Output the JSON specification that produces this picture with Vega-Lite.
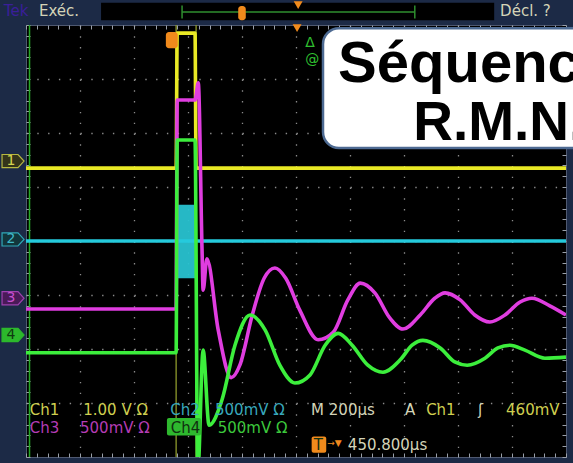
{
  "$schema": "https://vega.github.io/schema/vega-lite/v6.json",
  "width": 540,
  "height": 432,
  "autosize": {"type": "none"},
  "padding": {"left": 26, "top": 25, "right": 7, "bottom": 6},
  "background": "#1c2a46",
  "config": {"view": {"fill": "#000000", "stroke": "#4e5870", "strokeWidth": 1}},
  "resolve": {
    "axis": {"x": "independent", "y": "independent"},
    "scale": {"color": "independent", "fill": "independent", "stroke": "independent"}
  },
  "layer": [
    {
      "data": {"values": [{"x": 0.065, "y": 0, "y2": 8}]},
      "mark": {"type": "rule", "color": "#27a827", "strokeWidth": 1.5},
      "encoding": {
        "x": {"field": "x", "type": "quantitative", "scale": {"domain": [0, 10], "nice": false, "zero": false},
          "axis": {"orient": "bottom", "values": [1, 2, 3, 4, 5, 6, 7, 8, 9], "grid": true, "gridColor": "#8a8a8a", "gridDash": [1.4, 9.4], "gridWidth": 1.3, "ticks": false, "labels": false, "domain": false, "title": null}},
        "y": {"field": "y", "type": "quantitative", "scale": {"domain": [0, 8], "nice": false, "zero": false},
          "axis": {"orient": "left", "values": [1, 2, 3, 4, 5, 6, 7], "grid": true, "gridColor": "#8a8a8a", "gridDash": [1.4, 9.4], "gridWidth": 1.3, "ticks": false, "labels": false, "domain": false, "title": null}},
        "y2": {"field": "y2"}
      }
    },
    {
      "data": {"values": [{"x": 2.78, "y": 0, "y2": 8}, {"x": 3.15, "y": 0, "y2": 8}]},
      "mark": {"type": "rule", "color": "#8e9a2c", "strokeWidth": 1.3},
      "encoding": {
        "x": {"field": "x", "type": "quantitative",
          "axis": {"orient": "top", "tickCount": 50, "tickSize": -4, "tickColor": "#9aa0aa", "tickWidth": 1, "labels": false, "domain": false, "grid": false, "title": null}},
        "y": {"field": "y", "type": "quantitative",
          "axis": {"orient": "left", "tickCount": 40, "tickSize": -4, "tickColor": "#9aa0aa", "tickWidth": 1, "labels": false, "domain": false, "grid": false, "title": null}},
        "y2": {"field": "y2"}
      }
    },
    {
      "data": {"values": [{"x": 1.39, "x2": 8.67, "y": 8.09, "y2": 8.41}]},
      "mark": {"type": "rect", "fill": "#000000"},
      "encoding": {
        "x": {"field": "x", "type": "quantitative",
          "axis": {"orient": "bottom", "tickCount": 50, "tickSize": -4, "tickColor": "#9aa0aa", "tickWidth": 1, "labels": false, "domain": false, "grid": false, "title": null}},
        "x2": {"field": "x2"},
        "y": {"field": "y", "type": "quantitative",
          "axis": {"orient": "right", "tickCount": 40, "tickSize": -4, "tickColor": "#9aa0aa", "tickWidth": 1, "labels": false, "domain": false, "grid": false, "title": null}},
        "y2": {"field": "y2"}
      }
    },
    {
      "data": {"values": [
        {"x": 2.89, "x2": 7.2, "y": 8.24, "y2": 8.24},
        {"x": 2.89, "x2": 2.89, "y": 8.12, "y2": 8.36},
        {"x": 7.2, "x2": 7.2, "y": 8.12, "y2": 8.36}
      ]},
      "mark": {"type": "rule", "color": "#2f8f2f", "strokeWidth": 1.5},
      "encoding": {
        "x": {"field": "x", "type": "quantitative", "axis": null},
        "x2": {"field": "x2"},
        "y": {"field": "y", "type": "quantitative", "axis": null},
        "y2": {"field": "y2"}
      }
    },
    {
      "data": {"values": [{"x": 2.79, "x2": 3.13, "y": 3.31, "y2": 4.67}]},
      "mark": {"type": "rect", "fill": "#28c2d0", "opacity": 0.95},
      "encoding": {
        "x": {"field": "x", "type": "quantitative", "axis": null},
        "x2": {"field": "x2"},
        "y": {"field": "y", "type": "quantitative", "axis": null},
        "y2": {"field": "y2"}
      }
    },
    {
      "data": {"values": [
        {"ch": "1", "t": 0, "v": 5.35}, {"ch": "1", "t": 2.78, "v": 5.35}, {"ch": "1", "t": 2.8, "v": 7.85}, {"ch": "1", "t": 3.13, "v": 7.85}, {"ch": "1", "t": 3.15, "v": 5.35}, {"ch": "1", "t": 10, "v": 5.35},
        {"ch": "2", "t": 0, "v": 4.0}, {"ch": "2", "t": 2.78, "v": 4.0}, {"ch": "2", "t": 3.15, "v": 4.0}, {"ch": "2", "t": 10, "v": 4.0},
        {"ch": "3", "t": 0, "v": 2.74}, {"ch": "3", "t": 2.78, "v": 2.74}, {"ch": "3", "t": 2.8, "v": 6.61}, {"ch": "3", "t": 3.13, "v": 6.61}, {"ch": "3", "t": 3.19, "v": 6.93}, {"ch": "3", "t": 3.26, "v": 3.83}, {"ch": "3", "t": 3.28, "v": 3.09}, {"ch": "3", "t": 3.35, "v": 3.67}, {"ch": "3", "t": 3.56, "v": 2.35}, {"ch": "3", "t": 3.8, "v": 1.47}, {"ch": "3", "t": 3.96, "v": 1.7}, {"ch": "3", "t": 4.19, "v": 2.63}, {"ch": "3", "t": 4.41, "v": 3.31}, {"ch": "3", "t": 4.61, "v": 3.5}, {"ch": "3", "t": 4.81, "v": 3.31}, {"ch": "3", "t": 5.07, "v": 2.72}, {"ch": "3", "t": 5.41, "v": 2.17}, {"ch": "3", "t": 5.69, "v": 2.31}, {"ch": "3", "t": 5.96, "v": 2.91}, {"ch": "3", "t": 6.19, "v": 3.22}, {"ch": "3", "t": 6.46, "v": 3.04}, {"ch": "3", "t": 6.74, "v": 2.57}, {"ch": "3", "t": 6.98, "v": 2.37}, {"ch": "3", "t": 7.3, "v": 2.63}, {"ch": "3", "t": 7.57, "v": 2.94}, {"ch": "3", "t": 7.76, "v": 3.04}, {"ch": "3", "t": 8.04, "v": 2.91}, {"ch": "3", "t": 8.31, "v": 2.63}, {"ch": "3", "t": 8.59, "v": 2.5}, {"ch": "3", "t": 8.87, "v": 2.63}, {"ch": "3", "t": 9.15, "v": 2.87}, {"ch": "3", "t": 9.37, "v": 2.94}, {"ch": "3", "t": 9.7, "v": 2.8}, {"ch": "3", "t": 10, "v": 2.63},
        {"ch": "4", "t": 0, "v": 1.93}, {"ch": "4", "t": 2.78, "v": 1.93}, {"ch": "4", "t": 2.8, "v": 5.87}, {"ch": "4", "t": 3.13, "v": 5.87}, {"ch": "4", "t": 3.18, "v": -0.3}, {"ch": "4", "t": 3.28, "v": 1.98}, {"ch": "4", "t": 3.39, "v": 0.59}, {"ch": "4", "t": 3.63, "v": 1.06}, {"ch": "4", "t": 3.87, "v": 2.07}, {"ch": "4", "t": 4.15, "v": 2.63}, {"ch": "4", "t": 4.43, "v": 2.35}, {"ch": "4", "t": 4.7, "v": 1.7}, {"ch": "4", "t": 4.98, "v": 1.37}, {"ch": "4", "t": 5.26, "v": 1.52}, {"ch": "4", "t": 5.54, "v": 2.07}, {"ch": "4", "t": 5.78, "v": 2.29}, {"ch": "4", "t": 6.04, "v": 2.07}, {"ch": "4", "t": 6.33, "v": 1.7}, {"ch": "4", "t": 6.61, "v": 1.57}, {"ch": "4", "t": 6.93, "v": 1.8}, {"ch": "4", "t": 7.15, "v": 2.07}, {"ch": "4", "t": 7.35, "v": 2.16}, {"ch": "4", "t": 7.67, "v": 2.02}, {"ch": "4", "t": 7.94, "v": 1.76}, {"ch": "4", "t": 8.17, "v": 1.7}, {"ch": "4", "t": 8.5, "v": 1.83}, {"ch": "4", "t": 8.74, "v": 2.02}, {"ch": "4", "t": 8.96, "v": 2.07}, {"ch": "4", "t": 9.24, "v": 1.98}, {"ch": "4", "t": 9.61, "v": 1.83}, {"ch": "4", "t": 10, "v": 1.85}
      ]},
      "mark": {"type": "line", "strokeWidth": 3.6, "interpolate": "monotone", "clip": true},
      "encoding": {
        "x": {"field": "t", "type": "quantitative", "axis": null},
        "y": {"field": "v", "type": "quantitative", "axis": null},
        "color": {"field": "ch", "type": "nominal", "legend": null,
          "scale": {"domain": ["1", "2", "3", "4"], "range": ["#e9e925", "#25cadc", "#e03de0", "#3cee3c"]}}
      }
    },
    {
      "data": {"values": [
        {"x": 2.59, "x2": 2.81, "y": 7.57, "y2": 7.87},
        {"x": 3.93, "x2": 4.07, "y": 8.09, "y2": 8.35}
      ]},
      "mark": {"type": "rect", "fill": "#f08a1c", "cornerRadius": 3},
      "encoding": {
        "x": {"field": "x", "type": "quantitative", "axis": null},
        "x2": {"field": "x2"},
        "y": {"field": "y", "type": "quantitative", "axis": null},
        "y2": {"field": "y2"}
      }
    },
    {
      "data": {"values": [{"x": 5.04, "y": 8.37}, {"x": 5.02, "y": 7.94}]},
      "mark": {"type": "point", "shape": "triangle-down", "filled": true, "color": "#f08a1c", "size": 80, "opacity": 1},
      "encoding": {
        "x": {"field": "x", "type": "quantitative", "axis": null},
        "y": {"field": "y", "type": "quantitative", "axis": null}
      }
    },
    {
      "data": {"values": [{"x": 5.5, "x2": 10.6, "y": 5.72, "y2": 7.94}]},
      "mark": {"type": "rect", "fill": "#ffffff", "stroke": "#4d6a92", "strokeWidth": 2.5, "cornerRadius": 16},
      "encoding": {
        "x": {"field": "x", "type": "quantitative", "axis": null},
        "x2": {"field": "x2"},
        "y": {"field": "y", "type": "quantitative", "axis": null},
        "y2": {"field": "y2"}
      }
    },
    {
      "data": {"values": [{"x": 5.78, "y": 6.94, "label": "Séquence"}]},
      "mark": {"type": "text", "font": "Liberation Sans", "fontWeight": "bold", "fontSize": 58, "align": "left", "baseline": "alphabetic", "color": "#000000"},
      "encoding": {
        "x": {"field": "x", "type": "quantitative", "axis": null},
        "y": {"field": "y", "type": "quantitative", "axis": null},
        "text": {"field": "label"}
      }
    },
    {
      "data": {"values": [{"x": 7.17, "y": 5.87, "label": "R.M.N."}]},
      "mark": {"type": "text", "font": "Liberation Sans", "fontWeight": "bold", "fontSize": 55, "align": "left", "baseline": "alphabetic", "color": "#000000"},
      "encoding": {
        "x": {"field": "x", "type": "quantitative", "axis": null},
        "y": {"field": "y", "type": "quantitative", "axis": null},
        "text": {"field": "label"}
      }
    },
    {
      "data": {"values": [
        {"x": -0.24, "y": 5.48, "ch": "1"},
        {"x": -0.24, "y": 4.03, "ch": "2"},
        {"x": -0.24, "y": 2.94, "ch": "3"},
        {"x": -0.24, "y": 2.26, "ch": "4"}
      ]},
      "mark": {"type": "point", "shape": "M-1,-0.6L0.45,-0.6L1,0L0.45,0.6L-1,0.6Z", "size": 484, "filled": true, "strokeWidth": 1.2, "opacity": 1},
      "encoding": {
        "x": {"field": "x", "type": "quantitative", "axis": null},
        "y": {"field": "y", "type": "quantitative", "axis": null},
        "fill": {"field": "ch", "type": "nominal", "legend": null,
          "scale": {"domain": ["1", "2", "3", "4"], "range": ["#34341a", "#12363c", "#4a1a58", "#2cb82c"]}},
        "stroke": {"field": "ch", "type": "nominal", "legend": null,
          "scale": {"domain": ["1", "2", "3", "4"], "range": ["#b8b840", "#30a8b8", "#a040b0", "#2cb82c"]}}
      }
    },
    {
      "data": {"values": [
        {"x": -0.28, "y": 5.48, "ch": "1"},
        {"x": -0.28, "y": 4.03, "ch": "2"},
        {"x": -0.28, "y": 2.94, "ch": "3"},
        {"x": -0.28, "y": 2.26, "ch": "4"}
      ]},
      "mark": {"type": "text", "font": "DejaVu Sans", "fontSize": 14, "align": "center", "baseline": "middle"},
      "encoding": {
        "x": {"field": "x", "type": "quantitative", "axis": null},
        "y": {"field": "y", "type": "quantitative", "axis": null},
        "text": {"field": "ch"},
        "color": {"field": "ch", "type": "nominal", "legend": null,
          "scale": {"domain": ["1", "2", "3", "4"], "range": ["#d4d450", "#40b8c8", "#c850d0", "#103a10"]}}
      }
    },
    {
      "data": {"values": [
        {"x": 2.61, "x2": 3.24, "y": 0.4, "y2": 0.72, "bc": "ch4"},
        {"x": 5.29, "x2": 5.56, "y": 0.08, "y2": 0.38, "bc": "trig"}
      ]},
      "mark": {"type": "rect", "cornerRadius": 2},
      "encoding": {
        "x": {"field": "x", "type": "quantitative", "axis": null},
        "x2": {"field": "x2"},
        "y": {"field": "y", "type": "quantitative", "axis": null},
        "y2": {"field": "y2"},
        "fill": {"field": "bc", "type": "nominal", "legend": null,
          "scale": {"domain": ["ch4", "trig"], "range": ["#2eb82e", "#f08a1c"]}}
      }
    },
    {
      "data": {"values": [
        {"x": 0.07, "y": 0.77, "label": "Ch1", "tc": "1"},
        {"x": 1.06, "y": 0.77, "label": "1.00 V Ω", "tc": "1"},
        {"x": 2.67, "y": 0.77, "label": "Ch2", "tc": "2"},
        {"x": 3.5, "y": 0.77, "label": "500mV Ω", "tc": "2"},
        {"x": 5.28, "y": 0.77, "label": "M 200µs", "tc": "ui"},
        {"x": 7.02, "y": 0.77, "label": "A", "tc": "ui"},
        {"x": 7.41, "y": 0.77, "label": "Ch1", "tc": "1"},
        {"x": 8.37, "y": 0.77, "label": "ʃ", "tc": "ui"},
        {"x": 8.89, "y": 0.77, "label": "460mV", "tc": "1"},
        {"x": 0.07, "y": 0.45, "label": "Ch3", "tc": "3"},
        {"x": 1.0, "y": 0.45, "label": "500mV Ω", "tc": "3"},
        {"x": 2.68, "y": 0.45, "label": "Ch4", "tc": "dark"},
        {"x": 3.55, "y": 0.45, "label": "500mV Ω", "tc": "4"},
        {"x": 5.33, "y": 0.13, "label": "T", "tc": "dark"},
        {"x": 5.96, "y": 0.13, "label": "450.800µs", "tc": "ui"},
        {"x": -0.41, "y": 8.17, "label": "Tek", "tc": "tek"},
        {"x": 0.24, "y": 8.17, "label": "Exéc.", "tc": "ui"},
        {"x": 8.78, "y": 8.17, "label": "Décl. ?", "tc": "ui"}
      ]},
      "mark": {"type": "text", "font": "DejaVu Sans", "fontSize": 15, "align": "left", "baseline": "alphabetic"},
      "encoding": {
        "x": {"field": "x", "type": "quantitative", "axis": null},
        "y": {"field": "y", "type": "quantitative", "axis": null},
        "text": {"field": "label"},
        "color": {"field": "tc", "type": "nominal", "legend": null,
          "scale": {"domain": ["1", "2", "3", "4", "ui", "trig", "dark", "tek"], "range": ["#cfcf50", "#38a8bc", "#b43cb4", "#3cc83c", "#d4d4b8", "#f08a20", "#103010", "#3a1e9a"]}}
      }
    },
    {
      "data": {"values": [{"x": 5.58, "y": 0.2, "label": "→▼"}]},
      "mark": {"type": "text", "font": "DejaVu Sans", "fontSize": 9, "align": "left", "baseline": "alphabetic", "color": "#f08a20"},
      "encoding": {
        "x": {"field": "x", "type": "quantitative", "axis": null},
        "y": {"field": "y", "type": "quantitative", "axis": null},
        "text": {"field": "label"}
      }
    },
    {
      "data": {"values": [
        {"x": 5.17, "y": 7.59, "label": "Δ"},
        {"x": 5.17, "y": 7.28, "label": "@"}
      ]},
      "mark": {"type": "text", "font": "DejaVu Sans", "fontSize": 14, "align": "left", "baseline": "alphabetic", "color": "#30c030"},
      "encoding": {
        "x": {"field": "x", "type": "quantitative", "axis": null},
        "y": {"field": "y", "type": "quantitative", "axis": null},
        "text": {"field": "label"}
      }
    }
  ]
}
